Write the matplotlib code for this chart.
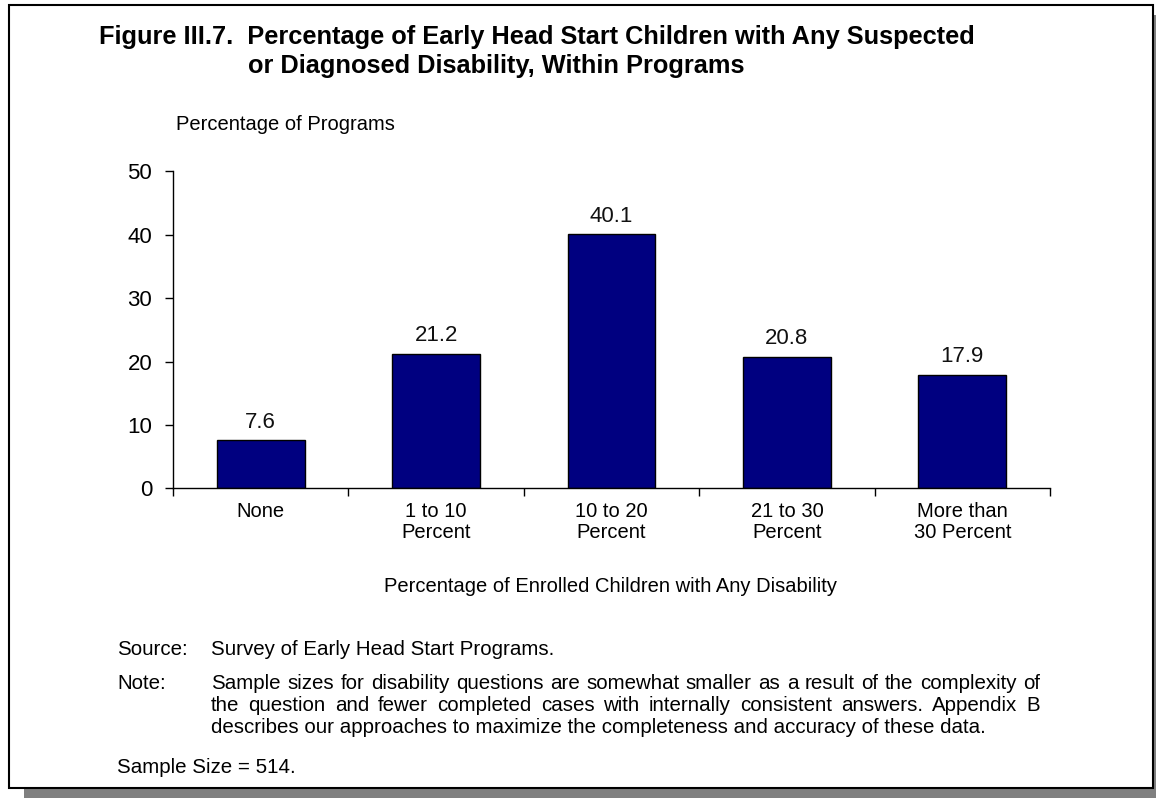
import matplotlib.pyplot as plt
from matplotlib.patches import Rectangle

categories = ["None", "1 to 10\nPercent", "10 to 20\nPercent", "21 to 30\nPercent", "More than\n30 Percent"]
values = [7.6, 21.2, 40.1, 20.8, 17.9]
yticks = [0, 10, 20, 30, 40, 50]

title_lines = ["Figure III.7.  Percentage of Early Head Start Children with Any Suspected",
               "or Diagnosed Disability, Within Programs"]
note_lines = [
    "Sample sizes for disability questions are somewhat smaller as a result of the complexity of",
    "the question and fewer completed cases with internally consistent answers.  Appendix B",
    "describes our approaches to maximize the completeness and accuracy of these data.",
]

plt.rcParams['font.family'] = ['Liberation Sans', 'DejaVu Sans']

fig = plt.figure(figsize=(11.56, 7.98), dpi=100)
W, H = 1156, 798
BODY = 14.8

def fx(x):
    return x / W

def fy(y):
    return 1 - y / H

# shadow and frame
fig.patches.append(Rectangle((fx(24), fy(798)), fx(1156 - 24), (798 - 788) / H,
                             transform=fig.transFigure, facecolor='#808080', edgecolor='none', zorder=0))
fig.patches.append(Rectangle((fx(1153), fy(788)), fx(3), (788 - 15) / H,
                             transform=fig.transFigure, facecolor='#808080', edgecolor='none', zorder=0))
fig.patches.append(Rectangle((fx(9), fy(788)), fx(1153 - 9), (788 - 5) / H,
                             transform=fig.transFigure, facecolor='white', edgecolor='black',
                             linewidth=1.5, zorder=1))

ax = fig.add_axes([fx(173), fy(488.5), fx(1050 - 173), (488.5 - 171.5) / H])
ax.set_zorder(2)
ax.patch.set_visible(False)

x = range(len(values))
ax.bar(x, values, width=0.5, color='#000080', edgecolor='black', linewidth=1)
for xi, v in zip(x, values):
    ax.text(xi, v + 1.2, f"{v:.1f}", ha='center', va='bottom', fontsize=16, color='#111111')

ax.set_xlim(-0.5, len(values) - 0.5)
ax.set_ylim(0, 50)
ax.set_yticks(yticks)
ax.set_yticklabels([str(t) for t in yticks], fontsize=16)
ax.set_xticks([i - 0.5 for i in range(len(values) + 1)])
ax.set_xticklabels([])
ax.set_xticks(list(x), minor=True)
ax.set_xticklabels(categories, minor=True, fontsize=14.5, linespacing=1.1)
ax.tick_params(axis='x', which='minor', length=0, pad=10)
ax.tick_params(axis='x', which='major', length=6, direction='out', width=1)
ax.tick_params(axis='y', length=6, direction='out', width=1, pad=9)
for s in ['top', 'right']:
    ax.spines[s].set_visible(False)
for s in ['left', 'bottom']:
    ax.spines[s].set_linewidth(1)

fig.text(fx(99), fy(44), title_lines[0], fontsize=18.3, fontweight='bold', ha='left', va='baseline')
fig.text(fx(248), fy(73), title_lines[1], fontsize=18.3, fontweight='bold', ha='left', va='baseline')
fig.text(fx(176), fy(130), "Percentage of Programs", fontsize=14.5, ha='left', va='baseline')
fig.text(fx(611), fy(592), "Percentage of Enrolled Children with Any Disability", fontsize=14.5,
         ha='center', va='baseline')

fig.text(fx(117), fy(655), "Source:", fontsize=BODY, va='baseline')
fig.text(fx(211), fy(655), "Survey of Early Head Start Programs.", fontsize=BODY, va='baseline')
fig.text(fx(117), fy(689), "Note:", fontsize=BODY, va='baseline')

# justified note lines (last line left aligned)
renderer = fig.canvas.get_renderer()
left, right = 211, 1040
space_w = None
for i, line in enumerate(note_lines):
    yb = fy(689 + 22 * i)
    if i == len(note_lines) - 1:
        fig.text(fx(left), yb, line, fontsize=BODY, va='baseline')
        continue
    words = line.split()
    widths = []
    for w in words:
        t = fig.text(0, 0, w, fontsize=BODY)
        widths.append(t.get_window_extent(renderer).width)
        t.remove()
    gap = (right - left - sum(widths)) / (len(words) - 1)
    xpos = left
    for w, wd in zip(words, widths):
        fig.text(fx(xpos), yb, w, fontsize=BODY, va='baseline')
        xpos += wd + gap

fig.text(fx(117), fy(773), "Sample Size = 514.", fontsize=BODY, va='baseline')

fig.savefig("out.png", dpi=100)
